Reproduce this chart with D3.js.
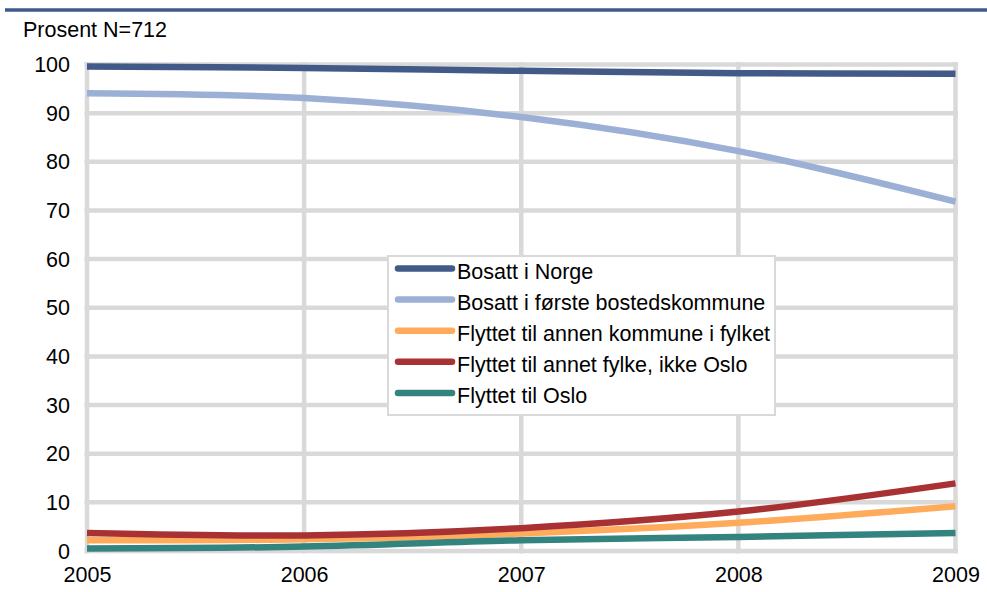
<!DOCTYPE html>
<html>
<head>
<meta charset="utf-8">
<script src="https://cdn.jsdelivr.net/npm/d3@7"></script>
<style>
  html, body { margin: 0; padding: 0; background: #fff; }
  svg { display: block; font-family: "Liberation Sans", Arial, sans-serif; }
</style>
</head>
<body>
<svg id="chart" width="987" height="592"></svg>
<script>
const years = [2005, 2006, 2007, 2008, 2009];
const seriesNames = [
  "Bosatt i Norge",
  "Bosatt i første bostedskommune",
  "Flyttet til annen kommune i fylket",
  "Flyttet til annet fylke, ikke Oslo",
  "Flyttet til Oslo"
];
const bosattNorge = [99.6, 99.3, 98.7, 98.2, 98.1];
const bosattForste = [94.1, 93.1, 89.2, 82.2, 71.8];
const annenKommune = [2.2, 2.4, 3.6, 5.8, 9.2];
const annetFylke = [3.7, 3.2, 4.7, 8.1, 13.9];
const oslo = [0.5, 0.9, 2.2, 2.9, 3.7];
const yTicks = [0, 10, 20, 30, 40, 50, 60, 70, 80, 90, 100];
const colors = ["#425a87", "#9cb0d6", "#ffab5c", "#a83233", "#33837f"];
const yLabel = "Prosent N=712";

const seriesValues = [bosattNorge, bosattForste, annenKommune, annetFylke, oslo];
const FS = 21.5;

const svg = d3.select("#chart");
const x = d3.scaleLinear().domain([2005, 2009]).range([87, 955.5]);
const y = d3.scaleLinear().domain([0, 100]).range([551, 64.5]);

// top rule
svg.append("line").attr("x1", 5).attr("x2", 987).attr("y1", 10).attr("y2", 10)
  .attr("stroke", "#3f5a8a").attr("stroke-width", 3.5);

// y label
svg.append("text").attr("x", 23).attr("y", 37).attr("font-size", FS).attr("fill", "#000").text(yLabel);

// gridlines
const grid = svg.append("g");
grid.selectAll("line.h").data(yTicks).join("line")
  .attr("x1", x(2005) - 2.5).attr("x2", x(2009) + 2.5)
  .attr("y1", d => y(d)).attr("y2", d => y(d))
  .attr("stroke", "#d9d9d9").attr("stroke-width", 4.5);
grid.selectAll("line.v").data(years).join("line")
  .attr("x1", d => x(d)).attr("x2", d => x(d))
  .attr("y1", y(100) - 2.5).attr("y2", y(0) + 2.5)
  .attr("stroke", "#d9d9d9").attr("stroke-width", 4.5);

// axes (labels only)
const yAxis = d3.axisLeft(y).tickValues(yTicks).tickSize(0).tickPadding(17);
const gy = svg.append("g").attr("transform", `translate(${x(2005)},0)`).call(yAxis);
gy.select(".domain").remove();
gy.selectAll("text").attr("font-size", FS).attr("fill", "#000")
  .attr("font-family", "Liberation Sans, Arial, sans-serif").attr("dy", "0.33em");

const xAxis = d3.axisBottom(x).tickValues(years).tickFormat(d3.format("d")).tickSize(0).tickPadding(16);
const gx = svg.append("g").attr("transform", `translate(0,${y(0)})`).call(xAxis);
gx.select(".domain").remove();
gx.selectAll("text").attr("font-size", FS).attr("fill", "#000")
  .attr("font-family", "Liberation Sans, Arial, sans-serif");

// lines
const line = d3.line().x((d, i) => x(years[i])).y(d => y(d)).curve(d3.curveCatmullRom.alpha(0.5));
svg.append("g").selectAll("path").data(seriesValues).join("path")
  .attr("d", d => line(d))
  .attr("fill", "none")
  .attr("stroke", (d, i) => colors[i])
  .attr("stroke-width", 6.5)
  .attr("stroke-linejoin", "round");

// legend
const lg = svg.append("g");
lg.append("rect").attr("x", 388).attr("y", 256).attr("width", 387).attr("height", 159)
  .attr("fill", "#fff").attr("stroke", "#d9d9d9").attr("stroke-width", 2);
const rows = lg.selectAll("g.row").data(seriesNames).join("g")
  .attr("transform", (d, i) => `translate(0,${268.5 + i * 31.1})`);
rows.append("line").attr("x1", 398).attr("x2", 452).attr("y1", 0).attr("y2", 0)
  .attr("stroke", (d, i) => colors[i]).attr("stroke-width", 6.5).attr("stroke-linecap", "round");
rows.append("text").attr("x", 457).attr("y", 10.5).attr("font-size", FS).attr("fill", "#000").text(d => d);
</script>
</body>
</html>
